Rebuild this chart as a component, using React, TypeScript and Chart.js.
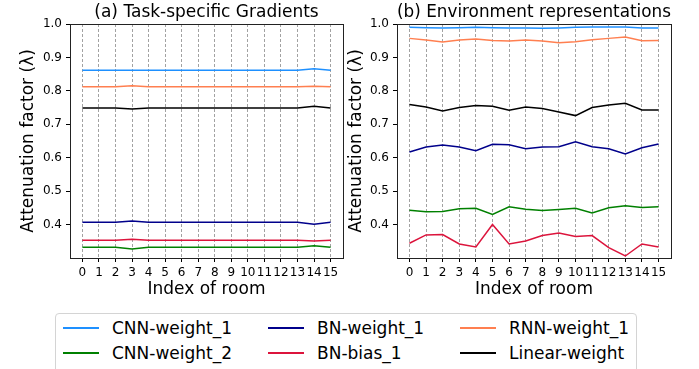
import React, { useEffect, useRef } from "react";
import { Chart, registerables } from "chart.js";
Chart.register(...registerables);

const rooms = [0, 1, 2, 3, 4, 5, 6, 7, 8, 9, 10, 11, 12, 13, 14, 15];
const yTicks = [0.4, 0.5, 0.6, 0.7, 0.8, 0.9, 1.0];
const seriesNames = ["CNN-weight_1", "CNN-weight_2", "BN-weight_1", "BN-bias_1", "RNN-weight_1", "Linear-weight"];
const seriesColors = ["#1E90FF", "#008000", "#00008B", "#DC143C", "#FF7F50", "#000000"];

// (a) Task-specific Gradients
const cnnW1A = [0.862, 0.862, 0.862, 0.862, 0.862, 0.862, 0.862, 0.862, 0.862, 0.862, 0.862, 0.862, 0.862, 0.862, 0.866, 0.862];
const cnnW2A = [0.332, 0.332, 0.332, 0.327, 0.332, 0.332, 0.332, 0.332, 0.332, 0.332, 0.332, 0.332, 0.332, 0.332, 0.337, 0.332];
const bnW1A = [0.407, 0.407, 0.407, 0.411, 0.407, 0.407, 0.407, 0.407, 0.407, 0.407, 0.407, 0.407, 0.407, 0.407, 0.401, 0.407];
const bnB1A = [0.353, 0.353, 0.353, 0.356, 0.353, 0.353, 0.353, 0.353, 0.353, 0.353, 0.353, 0.353, 0.353, 0.353, 0.351, 0.353];
const rnnW1A = [0.8125, 0.8125, 0.8125, 0.815, 0.8125, 0.8125, 0.8125, 0.8125, 0.8125, 0.8125, 0.8125, 0.8125, 0.8125, 0.8125, 0.814, 0.8125];
const linearA = [0.749, 0.749, 0.749, 0.746, 0.749, 0.749, 0.749, 0.749, 0.749, 0.749, 0.749, 0.749, 0.749, 0.749, 0.754, 0.749];

// (b) Environment representations
const cnnW1B = [0.990, 0.989, 0.988, 0.989, 0.990, 0.989, 0.988, 0.988, 0.987, 0.988, 0.990, 0.991, 0.991, 0.991, 0.988, 0.988];
const cnnW2B = [0.443, 0.438, 0.439, 0.447, 0.449, 0.430, 0.453, 0.446, 0.442, 0.445, 0.449, 0.435, 0.450, 0.456, 0.451, 0.453];
const bnW1B = [0.617, 0.632, 0.638, 0.632, 0.621, 0.640, 0.639, 0.627, 0.632, 0.633, 0.648, 0.633, 0.627, 0.611, 0.630, 0.641];
const bnB1B = [0.344, 0.369, 0.370, 0.342, 0.333, 0.400, 0.342, 0.351, 0.367, 0.375, 0.364, 0.367, 0.331, 0.306, 0.342, 0.333];
const rnnW1B = [0.957, 0.952, 0.946, 0.952, 0.955, 0.951, 0.949, 0.952, 0.949, 0.944, 0.947, 0.953, 0.957, 0.961, 0.950, 0.951];
const linearB = [0.759, 0.752, 0.740, 0.750, 0.756, 0.754, 0.742, 0.752, 0.747, 0.737, 0.726, 0.750, 0.758, 0.763, 0.743, 0.743];

const FONT = "'DejaVu Sans', sans-serif";

const framePlugin = {
  id: "frame",
  afterDraw(chart: any) {
    const { ctx, chartArea } = chart;
    const { left, top, right, bottom } = chartArea;
    ctx.save();
    ctx.strokeStyle = "#222";
    ctx.lineWidth = 1;
    ctx.strokeRect(Math.round(left) + 0.5, Math.round(top) + 0.5, Math.round(right - left), Math.round(bottom - top));
    ctx.restore();
  },
};

function makeConfig(title: string, series: number[][], yWidth: number, padRight: number): any {
  return {
    type: "line",
    data: {
      datasets: series.map((vals, i) => ({
        label: seriesNames[i],
        data: vals.map((v, j) => ({ x: rooms[j], y: v })),
        borderColor: seriesColors[i],
        backgroundColor: seriesColors[i],
        borderWidth: 1.5,
        pointRadius: 0,
        tension: 0,
        fill: false,
      })),
    },
    options: {
      responsive: false,
      animation: false,
      events: [],
      layout: { padding: { left: 0, right: padRight, top: 0, bottom: 0 } },
      plugins: {
        legend: { display: false },
        tooltip: { enabled: false },
        title: {
          display: true,
          text: title,
          fullSize: false,
          color: "#000",
          font: { family: FONT, size: 17, weight: "normal", lineHeight: 1.2 },
          padding: { top: 2, bottom: 1.6 },
        },
      },
      scales: {
        x: {
          type: "linear",
          min: -0.75,
          max: 15.75,
          afterBuildTicks: (s: any) => {
            s.ticks = rooms.map((v) => ({ value: v }));
          },
          afterFit: (s: any) => {
            s.height = 42;
          },
          ticks: {
            autoSkip: false,
            maxRotation: 0,
            minRotation: 0,
            padding: 4,
            color: "#000",
            font: { family: FONT, size: 12 },
            callback: (v: any) => String(v),
          },
          grid: {
            display: true,
            drawOnChartArea: true,
            drawTicks: true,
            color: "#8a8a8a",
            lineWidth: 0.8,
            tickColor: "#000",
            tickLength: 4,
            tickWidth: 1,
            tickBorderDash: [],
          },
          border: { display: true, color: "#222", width: 1, dash: [3, 2] },
          title: {
            display: true,
            text: "Index of room",
            color: "#000",
            font: { family: FONT, size: 17, lineHeight: 1.2 },
            padding: { top: 0, bottom: 0 },
          },
        },
        y: {
          type: "linear",
          min: 0.3,
          max: 1.0,
          afterBuildTicks: (s: any) => {
            s.ticks = yTicks.map((v) => ({ value: v }));
          },
          afterFit: (s: any) => {
            s.width = yWidth;
          },
          ticks: {
            padding: 4,
            color: "#000",
            font: { family: FONT, size: 12 },
            callback: (v: any) => Number(v).toFixed(1),
          },
          grid: {
            display: true,
            drawOnChartArea: false,
            drawTicks: true,
            tickColor: "#000",
            tickLength: 4,
            tickWidth: 1,
          },
          border: { display: true, color: "#222", width: 1 },
          title: {
            display: true,
            text: "Attenuation factor (λ)",
            color: "#000",
            font: { family: FONT, size: 17, lineHeight: 1.2 },
            padding: { top: 18, bottom: 0 },
          },
        },
      },
    },
    plugins: [framePlugin],
  };
}

function ChartCanvas(props: { config: () => any; left: number; width: number; height: number }) {
  const ref = useRef<HTMLCanvasElement | null>(null);
  useEffect(() => {
    if (!ref.current) return;
    const chart = new Chart(ref.current, props.config());
    return () => chart.destroy();
  }, []);
  return (
    <canvas
      ref={ref}
      width={props.width}
      height={props.height}
      style={{ position: "absolute", left: props.left, top: 0, width: props.width, height: props.height }}
    />
  );
}

const legendCols = [
  { line: 7, text: 56 },
  { line: 212, text: 261 },
  { line: 404, text: 453 },
];

export default function App() {
  const seriesA = [cnnW1A, cnnW2A, bnW1A, bnB1A, rnnW1A, linearA];
  const seriesB = [cnnW1B, cnnW2B, bnW1B, bnB1B, rnnW1B, linearB];
  return (
    <div
      style={{
        position: "fixed",
        left: 0,
        top: 0,
        width: 699,
        height: 369,
        overflow: "hidden",
        background: "#fff",
        fontFamily: FONT,
      }}
    >
      <ChartCanvas config={() => makeConfig("(a) Task-specific Gradients", seriesA, 70, 7)} left={0} width={350} height={300} />
      <ChartCanvas config={() => makeConfig("(b) Environment representations", seriesB, 69, 28)} left={328} width={371} height={300} />
      <div
        style={{
          position: "absolute",
          left: 55,
          top: 313,
          width: 582,
          height: 70,
          border: "1px solid #d4d4d4",
          borderRadius: 4,
          boxSizing: "border-box",
          background: "#fff",
        }}
      >
        {seriesNames.map((name, i) => {
          const col = legendCols[Math.floor(i / 2)];
          const cy = i % 2 === 0 ? 14 : 39;
          return (
            <React.Fragment key={name}>
              <div
                style={{
                  position: "absolute",
                  left: col.line,
                  top: cy - 1,
                  width: 36,
                  height: 2,
                  background: seriesColors[i],
                }}
              />
              <div
                style={{
                  position: "absolute",
                  left: col.text,
                  top: cy - 10,
                  height: 20,
                  lineHeight: "20px",
                  fontSize: 17,
                  color: "#000",
                  whiteSpace: "nowrap",
                }}
              >
                {name}
              </div>
            </React.Fragment>
          );
        })}
      </div>
    </div>
  );
}
